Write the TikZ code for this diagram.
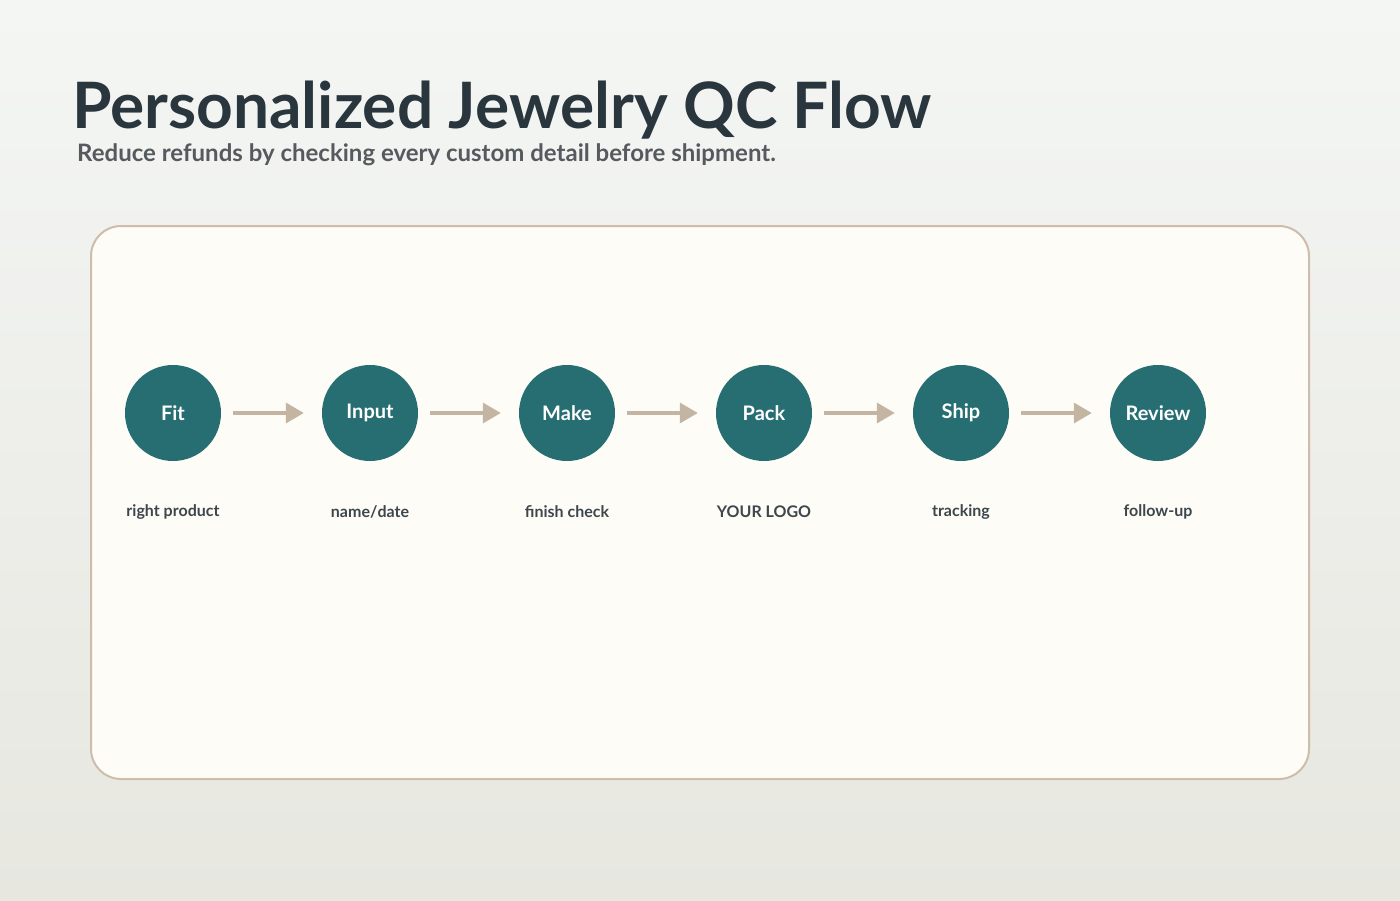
\documentclass[tikz,border=0pt]{standalone}
\usepackage{fontspec}
\setmainfont{Lato}
\usetikzlibrary{arrows.meta}
\definecolor{bgtop}{HTML}{F4F6F4}
\definecolor{bgbot}{HTML}{E7E7E0}
\definecolor{panel}{HTML}{FDFCF7}
\definecolor{panelline}{HTML}{CDBDAA}
\definecolor{teal}{HTML}{276E73}
\definecolor{arr}{HTML}{C4B5A3}
\definecolor{titlec}{HTML}{2A363D}
\definecolor{subc}{HTML}{555A5E}
\definecolor{lab}{HTML}{3D464C}
\tikzset{
  stepcircle/.style={circle,fill=teal,minimum size=96pt,inner sep=0pt,text=white,font=\fontsize{20}{24}\selectfont\bfseries},
  sublabel/.style={text=lab,font=\fontsize{16}{19}\selectfont\bfseries},
  flowarrow/.style={draw=arr,line width=3.5pt,-{Triangle[length=18pt,width=20pt]}}
}
\begin{document}
\begin{tikzpicture}[x=1pt,y=-1pt]
\useasboundingbox (0,0) rectangle (1400,900);
\shade[top color=bgtop,bottom color=bgbot] (0,0) rectangle (1400,900);
\node[anchor=base west,inner sep=0pt,text=titlec,font=\fontsize{64}{70}\selectfont\bfseries] (title) at (72,128) {Personalized Jewelry QC Flow};
\node[anchor=base west,inner sep=0pt,text=subc,font=\fontsize{24}{28}\selectfont\bfseries] (sub) at (77,161) {Reduce refunds by checking every custom detail before shipment.};
\draw[panelline,line width=2pt,fill=panel,rounded corners=30pt] (91,226) rectangle (1309,779);
\foreach \n/\x/\t/\s in {a/173/Fit/right product,b/370/Input/name\slash date,c/567/Make/finish check,d/764/Pack/YOUR LOGO,e/961/Ship/tracking,f/1158/Review/follow-up}{
  \node[stepcircle] (\n) at (\x,413) {\t};
  \node[sublabel] (\n l) at (\x,512) {\s};
}
\foreach \p/\q in {a/b,b/c,c/d,d/e,e/f}{
  \draw[flowarrow] ([xshift=12pt]\p.east) -- ([xshift=-18pt]\q.west);
}
\end{tikzpicture}
\end{document}
